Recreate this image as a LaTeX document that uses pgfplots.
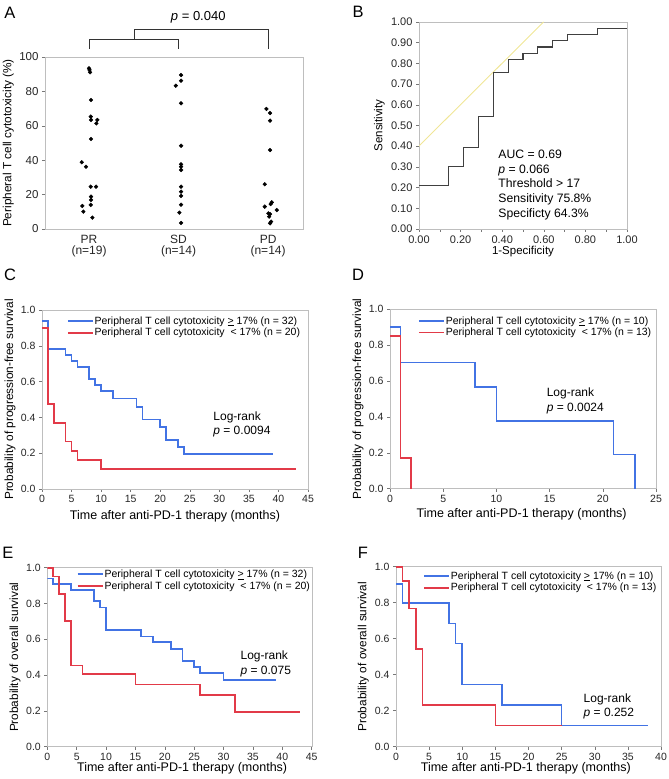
\documentclass[border=0pt]{standalone}
\usepackage{pgfplots}
\pgfplotsset{compat=1.18}
\usepackage{fontspec}
\setmainfont{Liberation Sans}
\definecolor{kmblue}{RGB}{66,115,228}
\definecolor{kmred}{RGB}{226,58,72}
\definecolor{framegray}{RGB}{190,190,190}
\definecolor{tickgray}{RGB}{120,120,120}
\definecolor{rocyel}{RGB}{240,230,150}
\newcommand{\fs}[1]{\fontsize{#1}{#1}\selectfont}
\pgfplotsset{
  base/.style={scale only axis, anchor=south west,
    axis line style={framegray}, tick style={tickgray, line width=0.5pt},
    tick align=outside, major tick length=3pt, minor tick length=3pt,
    xtick pos=bottom, ytick pos=left,
    /pgf/number format/assume math mode=true,
    tick label style={text=black!85}},
  km/.style={base, xmin=0, ymin=0, ymax=1, ytick={0,0.2,0.4,0.6,0.8,1},
    yticklabel style={/pgf/number format/fixed, /pgf/number format/fixed zerofill, /pgf/number format/precision=1},
    tick label style={font=\fs{10.5}},
    xlabel={Time after anti-PD-1 therapy (months)},
    xlabel style={font=\fs{12.5}, anchor=center},
    ylabel style={font=\fs{11.8}, anchor=center},
    legend cell align=left,
    legend style={draw=none, fill=none, anchor=north west, inner sep=0pt, row sep=0.5pt,
      font=\fs{10.5}, nodes={inner sep=1pt}},
    legend image code/.code={\draw[#1] (0pt,0pt) -- (25pt,0pt);}},
  kmb/.style={kmblue, line width=1.7pt, const plot mark left},
  kmr/.style={kmred, line width=1.7pt, const plot mark left}
}
\newcommand{\hi}{Peripheral T cell cytotoxicity~\underline{>}~17\%}
\newcommand{\lo}{Peripheral T cell cytotoxicity~~<~17\%}
\begin{document}
\begin{tikzpicture}
\path[use as bounding box] (0,0) rectangle (669pt,779pt);
% panel letters
\node[font=\fs{16.5}] at (10pt,766pt) {A};
\node[font=\fs{16.5}] at (358pt,767pt) {B};
\node[font=\fs{16.5}] at (10pt,504pt) {C};
\node[font=\fs{16.5}] at (358pt,504pt) {D};
\node[font=\fs{16.5}] at (8pt,226pt) {E};
\node[font=\fs{16.5}] at (363pt,226pt) {F};

% A
\begin{axis}[base, at={(45pt,550pt)}, width=258pt, height=172pt,
  xmin=0.508, xmax=3.39, ymin=0, ymax=100, ytick={0,20,40,60,80,100},
  xtick={1,2,3}, xticklabels={{PR\\(n=19)},{SD\\(n=14)},{PD\\(n=14)}},
  xticklabel style={align=center, font=\fontsize{12}{11}\selectfont},
  yticklabel style={font=\fs{11.5}}, xtick style={draw=none},
  ylabel={Peripheral T cell cytotoxicity (\%)},
  ylabel style={at={(axis description cs:-0.142,0.5)}, anchor=center, font=\fs{11.8}},
  clip=false]
\addplot[only marks, mark=*, mark size=1.9pt, black] coordinates {
 (1.000,93.4) (1.005,92.5) (1.011,91.1) (1.022,75.0) (1.019,65.3) (1.022,63.4) (1.093,63.4)
 (1.082,61.4) (1.022,52.3) (0.918,38.8) (0.966,36.2) (1.019,24.6) (1.078,24.6)
 (1.022,18.8) (1.022,16.9) (1.019,14.0) (0.925,13.4) (0.936,10.1) (1.037,6.6)
 (2.028,89.5) (2.028,86.2) (1.969,83.3) (2.028,73.1) (2.028,48.4) (2.028,37.6)
 (2.028,36.2) (2.028,34.3) (2.028,24.6) (2.028,21.7) (2.028,19.2) (2.028,14.1)
 (2.009,9.5) (2.028,3.5)
 (2.981,69.8) (3.022,67.4) (3.022,63.0) (3.022,45.9) (2.963,26.0) (2.963,13.0)
 (3.029,14.5) (3.041,15.5) (3.097,11.0) (3.003,9.1) (3.022,8.7) (3.011,7.2)
 (3.034,4.3) (3.022,3.3)};
\draw[black!80, line width=0.6pt] (axis cs:1,104.7) -- (axis cs:1,110.5) -- (axis cs:2,110.5) -- (axis cs:2,104.7);
\draw[black!80, line width=0.6pt] (axis cs:1.5,110.5) -- (axis cs:1.5,116.3) -- (axis cs:3,116.3) -- (axis cs:3,104.7);
\node[font=\fs{13}] at (axis cs:2.22,123) {\textit{p} = 0.040};
\end{axis}

% B
\begin{axis}[base, at={(419pt,550pt)}, width=208pt, height=207pt,
  xmin=0, xmax=1, ymin=0, ymax=1,
  xtick={0,0.2,0.4,0.6,0.8,1}, minor xtick={0.1,0.3,0.5,0.7,0.9},
  ytick={0,0.1,0.2,0.3,0.4,0.5,0.6,0.7,0.8,0.9,1},
  tick label style={font=\fs{11}},
  xticklabel style={/pgf/number format/fixed, /pgf/number format/fixed zerofill, /pgf/number format/precision=2},
  yticklabel style={/pgf/number format/fixed, /pgf/number format/fixed zerofill, /pgf/number format/precision=2},
  xlabel={1-Specificity}, ylabel={Sensitivity},
  xlabel style={at={(axis description cs:0.5,-0.11)}, anchor=center, font=\fs{11.5}},
  ylabel style={at={(axis description cs:-0.19,0.5)}, anchor=center, font=\fs{11.5}}]
\addplot[rocyel, line width=0.9pt] coordinates {(0,0.401) (0.599,1)};
\addplot[black!75, line width=1.1pt] coordinates {
 (0,0.212) (0.143,0.212) (0.143,0.303) (0.214,0.303) (0.214,0.394) (0.286,0.394)
 (0.286,0.545) (0.357,0.545) (0.357,0.758) (0.429,0.758) (0.429,0.818) (0.5,0.818)
 (0.5,0.848) (0.571,0.848) (0.571,0.879) (0.643,0.879) (0.643,0.909) (0.714,0.909)
 (0.714,0.939) (0.857,0.939) (0.857,0.970) (1,0.970)};
\node[anchor=base west, font=\fs{12.2}] at (axis cs:0.365,0.342) {AUC = 0.69};
\node[anchor=base west, font=\fs{12.2}] at (axis cs:0.365,0.270) {\textit{p} = 0.066};
\node[anchor=base west, font=\fs{12.2}] at (axis cs:0.365,0.200) {Threshold > 17};
\node[anchor=base west, font=\fs{12.2}] at (axis cs:0.365,0.129) {Sensitivity 75.8\%};
\node[anchor=base west, font=\fs{12.2}] at (axis cs:0.365,0.056) {Specificty 64.3\%};
\end{axis}

% C
\begin{axis}[km, at={(42pt,290pt)}, width=266pt, height=179pt,
  xmax=45, xtick={0,5,...,45},
  ylabel={Probability of progression-free survival},
  xlabel style={at={(axis description cs:0.5,-0.15)}},
  ylabel style={at={(axis description cs:-0.12,0.5)}},
  legend style={at={(axis description cs:0.093,0.97)}}]
\addplot[kmb] coordinates {(0,0.94) (1,0.781) (4,0.749) (5,0.717) (6,0.683) (8,0.613) (9,0.581)
 (10,0.547) (12,0.505) (16,0.46) (17,0.389) (20,0.348) (21,0.274) (23,0.236) (24,0.196) (39,0.196)};
\addlegendentry{\hi{} (n = 32)}
\addplot[kmr] coordinates {(0,0.9) (1,0.475) (2,0.37) (4,0.266) (5,0.212) (6,0.162) (10,0.11) (43,0.11)};
\addlegendentry{\lo{} (n = 20)}
\node[anchor=base west, font=\fs{12}] at (axis cs:28.4,0.382) {Log-rank};
\node[anchor=base west, font=\fs{12}] at (axis cs:28.4,0.302) {\textit{p} = 0.0094};
\end{axis}

% D
\begin{axis}[km, at={(390pt,290.3pt)}, width=266pt, height=179.4pt,
  xmax=25, xtick={0,5,...,25},
  ylabel={Probability of progression-free survival},
  xlabel style={at={(axis description cs:0.495,-0.145)}},
  ylabel style={at={(axis description cs:-0.12,0.5)}},
  legend style={at={(axis description cs:0.105,0.967)}}]
\addplot[kmb] coordinates {(0,0.903) (1,0.704) (8,0.565) (10,0.377) (21,0.191) (23,0)};
\addlegendentry{\hi{} (n = 10)}
\addplot[kmr] coordinates {(0,0.851) (1,0.173) (2,0)};
\addlegendentry{\lo{} (n = 13)}
\node[anchor=base west, font=\fs{12}] at (axis cs:14.4,0.513) {Log-rank};
\node[anchor=base west, font=\fs{12}] at (axis cs:14.4,0.429) {\textit{p} = 0.0024};
\end{axis}

% E
\begin{axis}[km, at={(47.3pt,32.3pt)}, width=264.4pt, height=179pt,
  xmax=45, xtick={0,5,...,45},
  ylabel={Probability of overall survival},
  xlabel style={at={(axis description cs:0.51,-0.12)}},
  ylabel style={at={(axis description cs:-0.122,0.5)}},
  legend style={at={(axis description cs:0.111,0.995)}}]
\addplot[kmb] coordinates {(0,0.94) (1,0.909) (4,0.877) (8,0.814) (9,0.778) (10,0.652) (16,0.616)
 (18,0.583) (21,0.547) (23,0.479) (25,0.447) (26,0.413) (30,0.371) (39,0.371)};
\addlegendentry{\hi{} (n = 32)}
\addplot[kmr] coordinates {(0,1.0) (1,0.95) (2,0.853) (3,0.704) (4,0.454) (6,0.406) (15,0.348)
 (26,0.289) (32,0.192) (43,0.192)};
\addlegendentry{\lo{} (n = 20)}
\node[anchor=base west, font=\fs{12}] at (axis cs:32.3,0.488) {Log-rank};
\node[anchor=base west, font=\fs{12}] at (axis cs:32.3,0.406) {\textit{p} = 0.075};
\end{axis}

% F
\begin{axis}[km, at={(396pt,32.3pt)}, width=265pt, height=180pt,
  xmax=40, xtick={0,5,...,40},
  ylabel={Probability of overall survival},
  xlabel style={at={(axis description cs:0.49,-0.12)}},
  ylabel style={at={(axis description cs:-0.123,0.5)}},
  legend style={at={(axis description cs:0.102,0.98)}}]
\addplot[kmb] coordinates {(0,0.902) (1,0.80) (8,0.685) (9,0.574) (10,0.346) (16,0.231) (25,0.117) (38,0.117)};
\addlegendentry{\hi{} (n = 10)}
\addplot[kmr] coordinates {(0,1.0) (1,0.922) (2,0.768) (3,0.541) (4,0.231) (15,0.117) (25,0.117)};
\addlegendentry{\lo{} (n = 13)}
\node[anchor=base west, font=\fs{12}] at (axis cs:27.8,0.247) {Log-rank};
\node[anchor=base west, font=\fs{12}] at (axis cs:27.8,0.167) {\textit{p} = 0.252};
\end{axis}
\end{tikzpicture}
\end{document}
